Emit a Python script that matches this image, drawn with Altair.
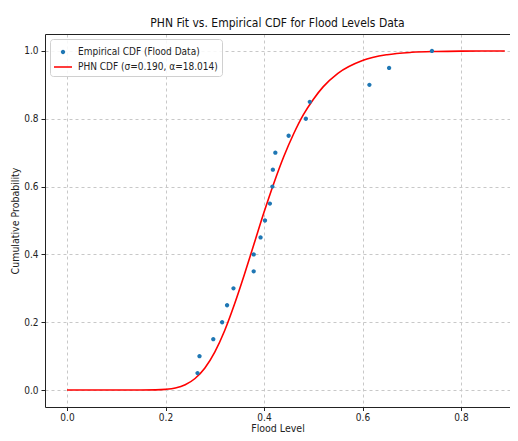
import altair as alt
import pandas as pd

# Empirical CDF points
emp_x = [0.265, 0.269, 0.297, 0.315, 0.325, 0.338, 0.379, 0.379, 0.393, 0.402,
         0.412, 0.417, 0.418, 0.423, 0.450, 0.485, 0.493, 0.614, 0.654, 0.741]
emp_y = [0.05, 0.10, 0.15, 0.20, 0.25, 0.30, 0.35, 0.40, 0.45, 0.50,
         0.55, 0.60, 0.65, 0.70, 0.75, 0.80, 0.85, 0.90, 0.95, 1.00]

# Fitted curve, values
fit_x = [0.00, 0.10, 0.15, 0.18, 0.20, 0.22, 0.24, 0.26, 0.28, 0.30, 0.32, 0.34,
         0.36, 0.38, 0.40, 0.42, 0.44, 0.46, 0.48, 0.50, 0.52, 0.55, 0.60, 0.65,
         0.70, 0.75, 0.80, 0.889]
fit_y = [0.0, 0.0, 0.00002, 0.0005, 0.002, 0.006, 0.0155, 0.034, 0.065, 0.112,
         0.175, 0.253, 0.340, 0.432, 0.524, 0.610, 0.688, 0.755, 0.812, 0.857,
         0.894, 0.934, 0.972, 0.989, 0.996, 0.9986, 0.9996, 1.0]

EMP = "Empirical CDF (Flood Data)"
FIT = "PHN CDF (σ=0.190, α=18.014)"

emp_df = pd.DataFrame({"x": emp_x, "y": emp_y, "series": EMP})
fit_df = pd.DataFrame({"x": fit_x, "y": fit_y})

FONT = "DejaVu Sans Condensed, Liberation Sans Narrow, DejaVu Sans"

# symbol shapes: small dot and a short horizontal bar (for the line entry)
DOT = "M-0.24,0A0.24,0.24,0,1,1,0.24,0A0.24,0.24,0,1,1,-0.24,0Z"
BAR = "M-1,-0.085L1,-0.085L1,0.085L-1,0.085Z"

xscale = alt.Scale(domain=[-0.0447, 0.8995], nice=False, zero=False)
yscale = alt.Scale(domain=[-0.05, 1.05], nice=False, zero=False)

xaxis = alt.Axis(title="Flood Level", values=[0, 0.2, 0.4, 0.6, 0.8], format=".1f",
                 grid=True, gridDash=[3, 3], gridColor="#c8c8c8",
                 domain=True, domainColor="#222",
                 tickSize=3.5, tickColor="#222", labelPadding=2, labelFontSize=10,
                 titleFontSize=10.5, titlePadding=1, labelColor="#222", titleColor="#222")
yaxis = alt.Axis(title="Cumulative Probability", values=[0, 0.2, 0.4, 0.6, 0.8, 1.0],
                 format=".1f", grid=True, gridDash=[3, 3], gridColor="#c8c8c8",
                 domain=True, domainColor="#222", tickSize=4, tickColor="#222", labelPadding=3,
                 labelFontSize=10, titleFontSize=10.5, titlePadding=3,
                 labelColor="#222", titleColor="#222")
topaxis = alt.Axis(orient="top", title=None, labels=False, ticks=False, grid=False,
                   domain=True, domainColor="#222")

legend = alt.Legend(
    title=None, orient="top-left", offset=5, padding=4,
    symbolSize=324, symbolStrokeWidth=0, symbolOpacity=1,
    labelOffset=6, rowPadding=1, labelFontSize=10,
    labelFont=FONT, labelColor="#222",
    fillColor="rgba(255,255,255,0.85)", strokeColor="#d0d0d0", cornerRadius=3,
)

points = alt.Chart(emp_df).mark_point(filled=True, size=324, opacity=1, clip=True).encode(
    x=alt.X("x:Q", scale=xscale, axis=xaxis),
    y=alt.Y("y:Q", scale=yscale, axis=yaxis),
    color=alt.Color("series:N", scale=alt.Scale(domain=[EMP, FIT], range=["#1f77b4", "#ff0000"]),
                    legend=legend),
    shape=alt.Shape("series:N", scale=alt.Scale(domain=[EMP, FIT], range=[DOT, BAR]),
                    legend=legend),
)

line = alt.Chart(fit_df).mark_line(color="#ff0000", strokeWidth=1.6, interpolate="monotone",
                                   clip=True).encode(
    x=alt.X("x:Q", scale=xscale, axis=topaxis),
    y=alt.Y("y:Q", scale=yscale, axis=yaxis),
)

chart = alt.layer(line, points).resolve_axis(x="independent").properties(
    width=465, height=373,
    autosize=alt.AutoSizeParams(type="none"),
    padding={"left": 37, "top": 26, "right": 0, "bottom": 26},
    title=alt.Title("PHN Fit vs. Empirical CDF for Flood Levels Data", fontSize=12,
                    font=FONT, fontWeight="normal", color="#111", offset=4, anchor="middle"),
).configure_view(stroke=None).configure_axis(
    labelFont=FONT, titleFont=FONT, titleFontWeight="normal"
)

chart.save("out.html", embed_options={"renderer": "svg", "actions": False})
